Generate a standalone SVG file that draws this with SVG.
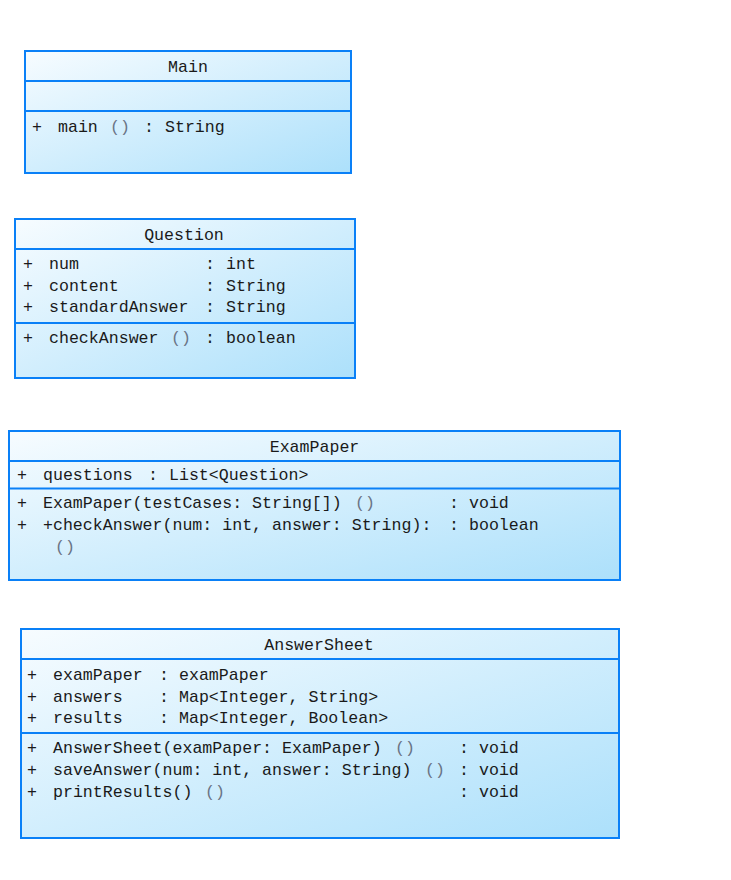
<svg xmlns="http://www.w3.org/2000/svg" width="731" height="880" viewBox="0 0 731 880">
<defs>
<linearGradient id="g" x1="0" y1="0" x2="1" y2="1">
<stop offset="0" stop-color="#f7fcff"/>
<stop offset="1" stop-color="#ace0fb"/>
</linearGradient>
</defs>
<style>
.box{fill:url(#g);stroke:#0a80f7;stroke-width:2}
.div{stroke:#0a80f7;stroke-width:2}
text{font-family:"Liberation Mono","DejaVu Sans Mono",monospace;font-size:16.6px;fill:#1a1a1a;white-space:pre}
.t{text-anchor:middle}
.p{fill:#6a7486}
</style>
<rect width="731" height="880" fill="#ffffff"/>
<g id="Main">
<rect class="box" x="25" y="51" width="326" height="122"/>
<line class="div" x1="25" y1="81" x2="351" y2="81"/>
<line class="div" x1="25" y1="111" x2="351" y2="111"/>
<text class="t" x="188" y="72">Main</text>
<text x="32" y="132">+</text>
<text x="58" y="132">main</text>
<text class="p" x="110" y="132">()</text>
<text x="144" y="132">:</text>
<text x="165" y="132">String</text>
</g>
<g id="Question">
<rect class="box" x="15" y="219" width="340" height="159"/>
<line class="div" x1="15" y1="249" x2="355" y2="249"/>
<line class="div" x1="15" y1="323" x2="355" y2="323"/>
<text class="t" x="184" y="240">Question</text>
<text x="23" y="269">+</text>
<text x="49" y="269">num</text>
<text x="205" y="269">:</text>
<text x="226" y="269">int</text>
<text x="23" y="290.5">+</text>
<text x="49" y="290.5">content</text>
<text x="205" y="290.5">:</text>
<text x="226" y="290.5">String</text>
<text x="23" y="312">+</text>
<text x="49" y="312">standardAnswer</text>
<text x="205" y="312">:</text>
<text x="226" y="312">String</text>
<text x="23" y="343">+</text>
<text x="49" y="343">checkAnswer</text>
<text class="p" x="171" y="343">()</text>
<text x="205" y="343">:</text>
<text x="226" y="343">boolean</text>
</g>
<g id="ExamPaper">
<rect class="box" x="9" y="431" width="611" height="149"/>
<line class="div" x1="9" y1="461" x2="620" y2="461"/>
<line class="div" x1="9" y1="488.5" x2="620" y2="488.5"/>
<text class="t" x="314.5" y="452">ExamPaper</text>
<text x="17" y="480">+</text>
<text x="43" y="480">questions</text>
<text x="148" y="480">:</text>
<text x="169" y="480">List&lt;Question&gt;</text>
<text x="17" y="508">+</text>
<text x="43" y="508">ExamPaper(testCases: String[])</text>
<text class="p" x="355" y="508">()</text>
<text x="449" y="508">:</text>
<text x="469" y="508">void</text>
<text x="17" y="530">+</text>
<text x="43" y="530">+checkAnswer(num: int, answer: String):</text>
<text x="449" y="530">:</text>
<text x="469" y="530">boolean</text>
<text class="p" x="55" y="552">()</text>
</g>
<g id="AnswerSheet">
<rect class="box" x="21" y="629" width="598" height="209"/>
<line class="div" x1="21" y1="659" x2="619" y2="659"/>
<line class="div" x1="21" y1="733" x2="619" y2="733"/>
<text class="t" x="319" y="650">AnswerSheet</text>
<text x="27" y="680">+</text>
<text x="53" y="680">examPaper</text>
<text x="159" y="680">:</text>
<text x="179" y="680">examPaper</text>
<text x="27" y="701.5">+</text>
<text x="53" y="701.5">answers</text>
<text x="159" y="701.5">:</text>
<text x="179" y="701.5">Map&lt;Integer, String&gt;</text>
<text x="27" y="723">+</text>
<text x="53" y="723">results</text>
<text x="159" y="723">:</text>
<text x="179" y="723">Map&lt;Integer, Boolean&gt;</text>
<text x="27" y="753">+</text>
<text x="53" y="753">AnswerSheet(examPaper: ExamPaper)</text>
<text class="p" x="395" y="753">()</text>
<text x="459" y="753">:</text>
<text x="479" y="753">void</text>
<text x="27" y="775">+</text>
<text x="53" y="775">saveAnswer(num: int, answer: String)</text>
<text class="p" x="425" y="775">()</text>
<text x="459" y="775">:</text>
<text x="479" y="775">void</text>
<text x="27" y="797">+</text>
<text x="53" y="797">printResults()</text>
<text class="p" x="205" y="797">()</text>
<text x="459" y="797">:</text>
<text x="479" y="797">void</text>
</g>
<g id="connectors"/>
</svg>
